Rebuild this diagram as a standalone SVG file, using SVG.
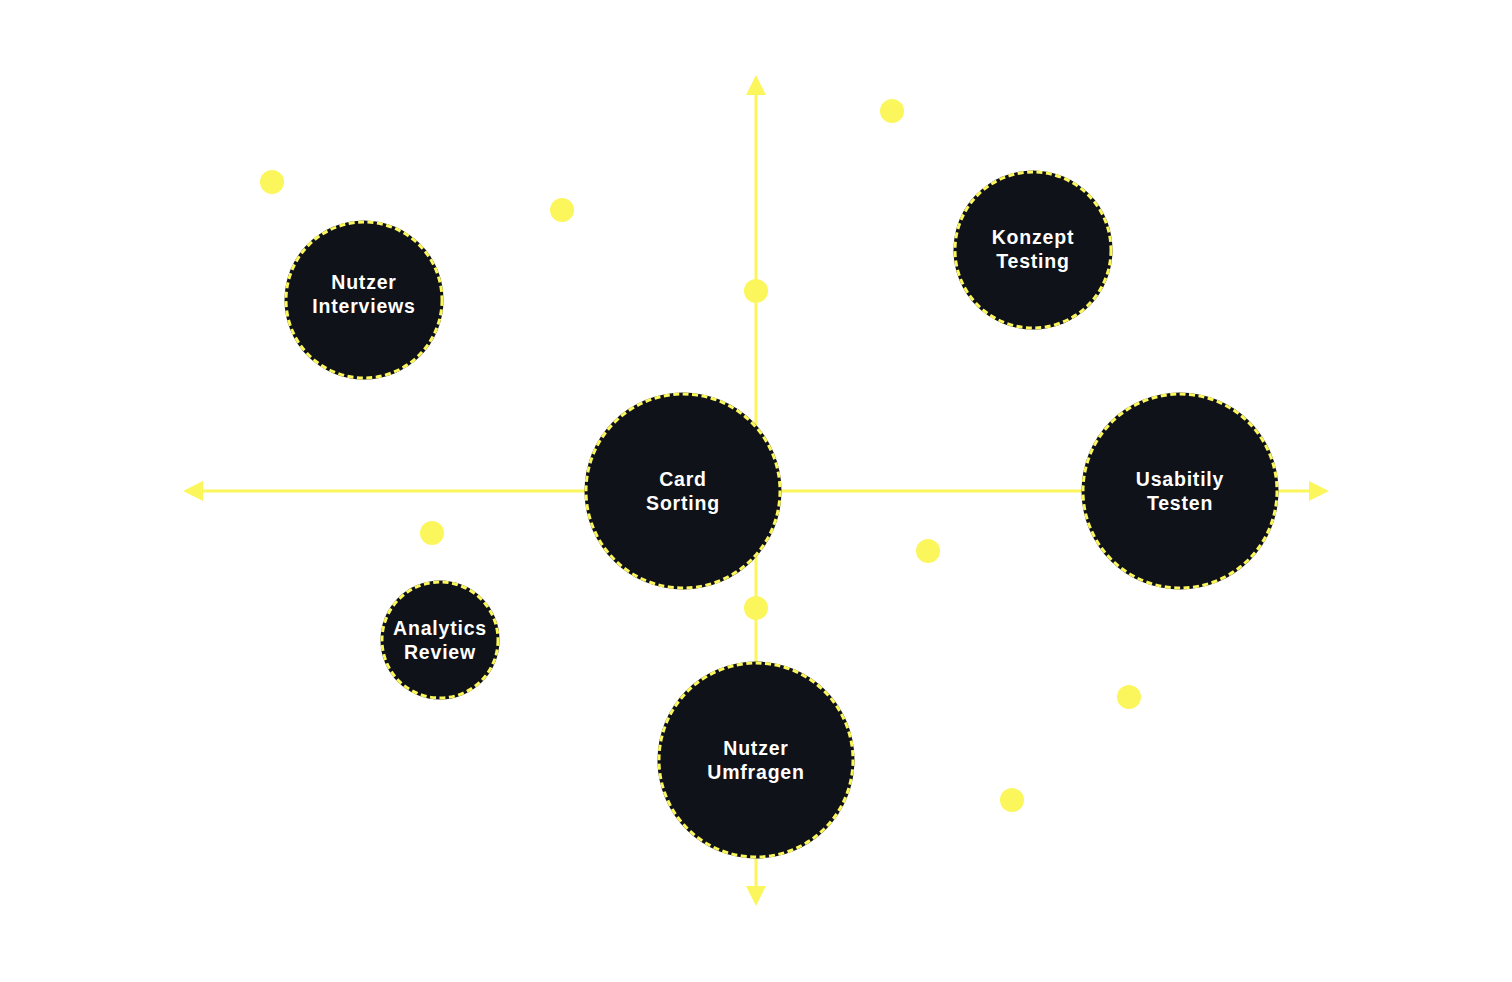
<svg xmlns="http://www.w3.org/2000/svg" width="1512" height="982" viewBox="0 0 1512 982">
<style>
.disc{fill:#0f1218}
.ring{fill:none;stroke:#fbf65c;stroke-width:3;stroke-dasharray:6 3.5}
.lbl{fill:#ffffff;font-family:"Liberation Sans",Arial,sans-serif;font-weight:bold;font-size:19.5px;letter-spacing:0.8px;text-anchor:middle}
.axis{stroke:#fbf65c;stroke-width:3;fill:none}
.dot{fill:#fbf65c}
</style>
<defs>
<marker id="ah" viewBox="0 0 20 20" refX="2" refY="10" markerWidth="20" markerHeight="20" markerUnits="userSpaceOnUse" orient="auto">
<path d="M0,0 L20,10 L0,20 Z" fill="#fbf65c"/>
</marker>
</defs>
<rect width="1512" height="982" fill="#ffffff"/>
<g id="connectors">
<line class="axis" x1="756" y1="491" x2="201" y2="491" marker-end="url(#ah)"/>
<line class="axis" x1="756" y1="491" x2="1311" y2="491" marker-end="url(#ah)"/>
<line class="axis" x1="756" y1="491" x2="756" y2="93" marker-end="url(#ah)"/>
<line class="axis" x1="756" y1="491" x2="756" y2="888" marker-end="url(#ah)"/>
</g>
<g id="dots">
<circle class="dot" cx="272" cy="182" r="12"/>
<circle class="dot" cx="562" cy="210" r="12"/>
<circle class="dot" cx="892" cy="111" r="12"/>
<circle class="dot" cx="756" cy="291" r="12"/>
<circle class="dot" cx="432" cy="533" r="12"/>
<circle class="dot" cx="928" cy="551" r="12"/>
<circle class="dot" cx="756" cy="608" r="12"/>
<circle class="dot" cx="1129" cy="697" r="12"/>
<circle class="dot" cx="1012" cy="800" r="12"/>
</g>
<g id="card-sorting">
<circle class="disc" cx="683" cy="491" r="98.5"/>
<circle class="ring" cx="683" cy="491" r="97"/>
<text class="lbl" x="683" y="486">Card</text>
<text class="lbl" x="683" y="510">Sorting</text>
</g>
<g id="usability-testen">
<circle class="disc" cx="1180" cy="491" r="98.5"/>
<circle class="ring" cx="1180" cy="491" r="97"/>
<text class="lbl" x="1180" y="486">Usabitily</text>
<text class="lbl" x="1180" y="510">Testen</text>
</g>
<g id="nutzer-umfragen">
<circle class="disc" cx="756" cy="760" r="98.5"/>
<circle class="ring" cx="756" cy="760" r="97"/>
<text class="lbl" x="756" y="755">Nutzer</text>
<text class="lbl" x="756" y="779">Umfragen</text>
</g>
<g id="konzept-testing">
<circle class="disc" cx="1033" cy="250" r="79.5"/>
<circle class="ring" cx="1033" cy="250" r="78"/>
<text class="lbl" x="1033" y="244">Konzept</text>
<text class="lbl" x="1033" y="268">Testing</text>
</g>
<g id="nutzer-interviews">
<circle class="disc" cx="364" cy="300" r="79.5"/>
<circle class="ring" cx="364" cy="300" r="78"/>
<text class="lbl" x="364" y="289">Nutzer</text>
<text class="lbl" x="364" y="313">Interviews</text>
</g>
<g id="analytics-review">
<circle class="disc" cx="440" cy="640" r="59.5"/>
<circle class="ring" cx="440" cy="640" r="58"/>
<text class="lbl" x="440" y="635">Analytics</text>
<text class="lbl" x="440" y="659">Review</text>
</g>
</svg>
